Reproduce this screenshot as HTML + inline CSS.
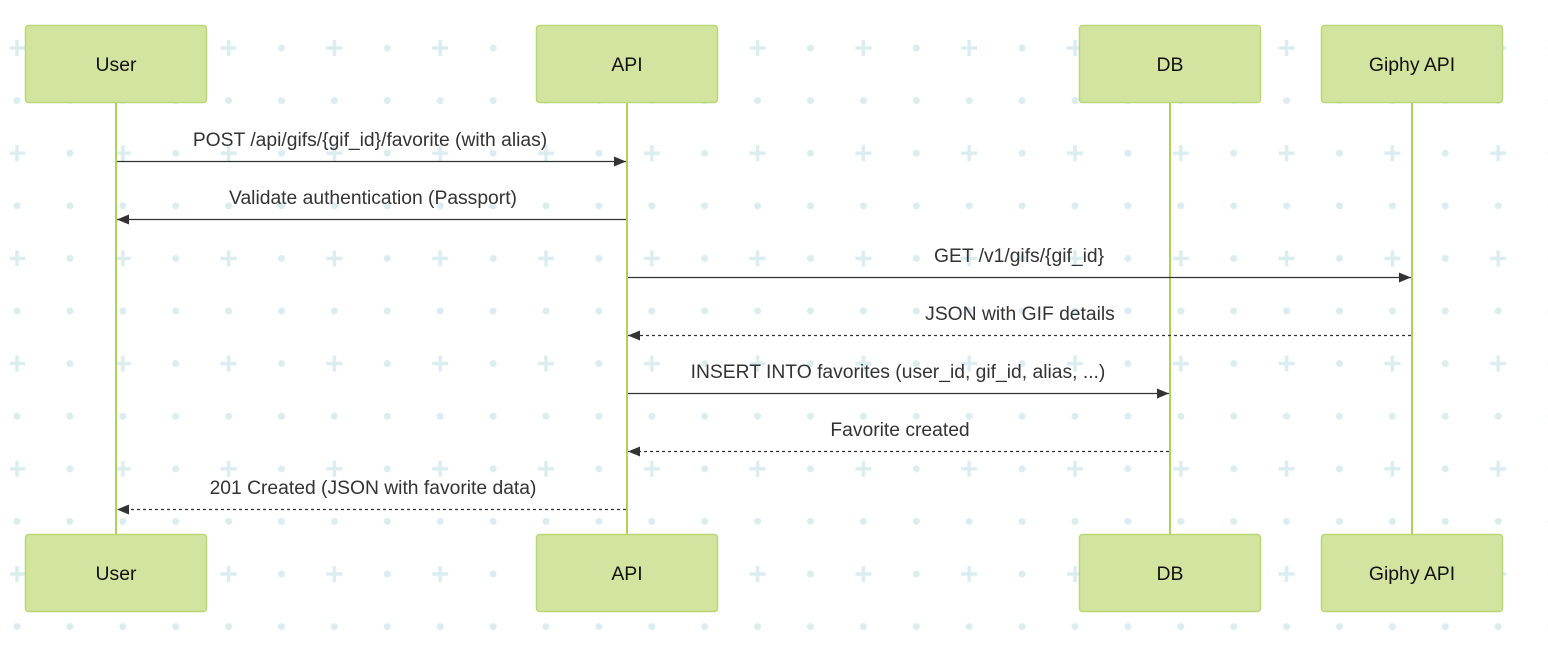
<!DOCTYPE html>
<html><head><meta charset="utf-8"><style>
html,body{margin:0;padding:0;background:#fff;}
svg{display:block;font-family:"Liberation Sans",Arial,sans-serif;}
</style></head><body>
<svg width="1548" height="654" viewBox="0 0 1548 654" xmlns="http://www.w3.org/2000/svg">
<defs>
<pattern id="bg" x="17" y="48" width="105.8" height="105.2" patternUnits="userSpaceOnUse">
<path d="M0 -8V8M-8 0H8M105.8 -8V8M97.8 0H113.8M0 97.2V113.2M-8 105.2H8M105.8 97.2V113.2M97.8 105.2H113.8" stroke="#dcedf0" stroke-width="3.5"/>
<circle cx="52.9" cy="0" r="3.5" fill="#dcedf0"/>
<circle cx="52.9" cy="105.2" r="3.5" fill="#dcedf0"/>
<circle cx="0" cy="52.6" r="3.5" fill="#dcedf0"/>
<circle cx="105.8" cy="52.6" r="3.5" fill="#dcedf0"/>
<circle cx="52.9" cy="52.6" r="3.5" fill="#dcedf0"/>
</pattern>
<marker id="ah" viewBox="0 0 12 10" refX="12" refY="5" markerWidth="12" markerHeight="10" markerUnits="userSpaceOnUse" orient="auto"><path d="M0 0L12 5L0 10z" fill="#333"/></marker>
</defs>
<rect x="10" y="0" width="1538" height="654" fill="url(#bg)"/>
<g stroke="#aed158" stroke-width="2">
<line x1="116" y1="103" x2="116" y2="534"/>
<line x1="627" y1="103" x2="627" y2="534"/>
<line x1="1170" y1="103" x2="1170" y2="534"/>
<line x1="1412" y1="103" x2="1412" y2="534"/>
</g>
<g fill="#d3e4a1" stroke="#b9d776" stroke-width="1.5">
<rect x="25.5" y="25.5" width="181" height="77" rx="3"/>
<rect x="536.5" y="25.5" width="181" height="77" rx="3"/>
<rect x="1079.5" y="25.5" width="181" height="77" rx="3"/>
<rect x="1321.5" y="25.5" width="181" height="77" rx="3"/>
<rect x="25.5" y="534.5" width="181" height="77" rx="3"/>
<rect x="536.5" y="534.5" width="181" height="77" rx="3"/>
<rect x="1079.5" y="534.5" width="181" height="77" rx="3"/>
<rect x="1321.5" y="534.5" width="181" height="77" rx="3"/>
</g>
<g font-size="19.4" fill="#111" text-anchor="middle">
<text x="116" y="71">User</text><text x="627" y="71">API</text><text x="1170" y="71">DB</text><text x="1412" y="71">Giphy API</text>
<text x="116" y="580">User</text><text x="627" y="580">API</text><text x="1170" y="580">DB</text><text x="1412" y="580">Giphy API</text>
</g>
<g stroke="#333" stroke-width="1.3" fill="none">
<line x1="117" y1="161.5" x2="626" y2="161.5" marker-end="url(#ah)"/>
<line x1="626" y1="219.5" x2="117" y2="219.5" marker-end="url(#ah)"/>
<line x1="628" y1="277.5" x2="1411" y2="277.5" marker-end="url(#ah)"/>
<line x1="1411" y1="335.5" x2="628" y2="335.5" stroke-dasharray="3,3" marker-end="url(#ah)"/>
<line x1="628" y1="393.5" x2="1169" y2="393.5" marker-end="url(#ah)"/>
<line x1="1169" y1="451.5" x2="628" y2="451.5" stroke-dasharray="3,3" marker-end="url(#ah)"/>
<line x1="626" y1="509.5" x2="117" y2="509.5" stroke-dasharray="3,3" marker-end="url(#ah)"/>
</g>
<g font-size="19.3" fill="#333" text-anchor="middle">
<text x="370" y="146">POST /api/gifs/{gif_id}/favorite (with alias)</text>
<text x="373" y="204">Validate authentication (Passport)</text>
<text x="1019" y="262">GET /v1/gifs/{gif_id}</text>
<text x="1020" y="320">JSON with GIF details</text>
<text x="898" y="378">INSERT INTO favorites (user_id, gif_id, alias, ...)</text>
<text x="900" y="436">Favorite created</text>
<text x="373" y="494">201 Created (JSON with favorite data)</text>
</g>
</svg>
</body></html>
